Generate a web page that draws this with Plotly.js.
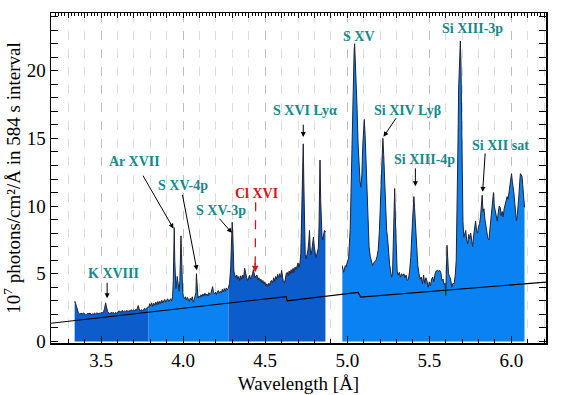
<!DOCTYPE html>
<html>
<head>
<meta charset="utf-8">
<script src="https://cdn.plot.ly/plotly-3.0.1.min.js"></script>
<style>html,body{margin:0;padding:0;background:#fff;}#chart{width:570px;height:395px;}</style>
</head>
<body>
<div id="chart"></div>
<script>
// ---- Spectrum segments (wavelength in Å, flux in 10^7 photons/cm^2/Å) ----
const wl1 = [
3.339, 3.341, 3.345, 3.349, 3.353, 3.357, 3.362, 3.367, 3.372, 3.378,
3.385, 3.392, 3.399, 3.406, 3.413, 3.420, 3.427, 3.433, 3.440, 3.447,
3.453, 3.460, 3.467, 3.474, 3.481, 3.488, 3.494, 3.501, 3.508, 3.515,
3.521, 3.525, 3.528, 3.532, 3.536, 3.540, 3.547, 3.555, 3.562, 3.569,
3.575, 3.582, 3.589, 3.596, 3.603, 3.610, 3.616, 3.623, 3.630, 3.636,
3.643, 3.650, 3.657, 3.664, 3.670, 3.677, 3.684, 3.690, 3.697, 3.704,
3.710, 3.716, 3.721, 3.727, 3.732, 3.738, 3.745, 3.752, 3.758, 3.765,
3.771, 3.777, 3.783, 3.790];
const fl1 = [
2.9, 2.95, 2.8, 2.6, 2.4, 2.2, 2.1, 2.05, 2.0, 2.1,
2.0, 2.1, 2.05, 1.98, 2.0, 2.08, 2.02, 2.1, 1.96, 2.05,
1.97, 2.1, 2.02, 2.12, 2.0, 2.08, 2.05, 2.15, 2.1, 2.2,
2.4, 2.7, 2.85, 2.6, 2.3, 2.2, 2.08, 2.03, 2.15, 2.1,
2.13, 2.05, 2.15, 2.03, 2.2, 2.25, 2.2, 2.15, 2.3, 2.17,
2.25, 2.2, 2.3, 2.2, 2.28, 2.2, 2.35, 2.25, 2.33, 2.25,
2.35, 2.3, 2.45, 2.65, 2.4, 2.25, 2.35, 2.28, 2.32, 2.45,
2.38, 2.45, 2.52, 2.5];

const wl2 = [
3.790, 3.796, 3.802, 3.808, 3.815, 3.821, 3.828, 3.834, 3.840, 3.846,
3.852, 3.858, 3.864, 3.870, 3.876, 3.882, 3.888, 3.894, 3.900, 3.906,
3.912, 3.918, 3.924, 3.930, 3.936, 3.940, 3.943, 3.946, 3.949, 3.952,
3.956, 3.960, 3.964, 3.968, 3.972, 3.976, 3.980, 3.984, 3.987, 3.990,
3.993, 3.997, 4.002, 4.008, 4.014, 4.020, 4.026, 4.032, 4.038, 4.044,
4.050, 4.056, 4.062, 4.068, 4.073, 4.078, 4.081, 4.084, 4.087, 4.091,
4.097, 4.103, 4.109, 4.115, 4.121, 4.127, 4.133, 4.139, 4.145, 4.151,
4.157, 4.163, 4.169, 4.175, 4.180, 4.185, 4.191, 4.197, 4.203, 4.209,
4.215, 4.221, 4.227, 4.233, 4.239, 4.245, 4.251, 4.257, 4.263, 4.269,
4.276];
const fl2 = [
2.5, 2.78, 2.6, 2.85, 2.58, 2.82, 2.65, 2.9, 2.7, 2.95,
2.75, 2.97, 2.8, 3.05, 2.85, 2.95, 3.1, 2.9, 3.0, 3.15,
2.95, 3.1, 3.15, 3.0, 3.3, 4.5, 6.5, 8.4, 6.0, 4.6,
3.9, 4.2, 4.8, 4.4, 3.8, 3.7, 4.5, 6.3, 7.8, 6.5,
4.8, 3.7, 3.3, 3.15, 3.3, 3.05, 3.25, 3.1, 2.95, 3.2,
3.05, 3.3, 2.9, 3.1, 3.3, 3.6, 5.0, 4.2, 3.4, 3.2,
3.35, 3.25, 3.45, 3.3, 3.5, 3.35, 3.55, 3.4, 3.5, 3.35,
3.6, 3.45, 3.55, 3.75, 4.05, 3.6, 3.5, 3.65, 3.45, 3.7,
3.75, 3.55, 3.7, 3.6, 3.85, 3.65, 3.9, 3.7, 3.95, 3.8,
3.95];

const wl3 = [
4.276, 4.283, 4.290, 4.295, 4.299, 4.302, 4.305, 4.309, 4.315, 4.321,
4.327, 4.333, 4.339, 4.345, 4.351, 4.357, 4.363, 4.369, 4.375, 4.381,
4.387, 4.393, 4.399, 4.405, 4.411, 4.417, 4.423, 4.428, 4.433, 4.438,
4.444, 4.450, 4.456, 4.462, 4.468, 4.474, 4.480, 4.486, 4.492, 4.498,
4.504, 4.510, 4.516, 4.522, 4.528, 4.534, 4.540, 4.546, 4.552, 4.558,
4.564, 4.570, 4.576, 4.582, 4.588, 4.594, 4.600, 4.605, 4.610, 4.616,
4.622, 4.628, 4.634, 4.640, 4.646, 4.652, 4.658, 4.664, 4.670, 4.676,
4.682, 4.688, 4.694, 4.700, 4.706, 4.712, 4.717, 4.721, 4.725, 4.729,
4.732, 4.735, 4.739, 4.744, 4.750, 4.756, 4.761, 4.766, 4.770, 4.774,
4.779, 4.784, 4.789, 4.794, 4.799, 4.804, 4.809, 4.814, 4.819, 4.824,
4.828, 4.831, 4.834, 4.838, 4.842, 4.846, 4.851, 4.856, 4.861, 4.867];
const fl3 = [
3.95, 4.3, 5.5, 7.5, 8.8, 8.2, 6.5, 5.2, 4.9, 4.7,
4.9, 4.6, 4.8, 4.5, 4.85, 4.6, 4.9, 4.7, 5.4, 4.9,
4.7, 4.5, 4.8, 4.9, 4.6, 4.75, 5.0, 5.3, 4.95, 4.7,
4.85, 4.9, 4.55, 4.7, 4.45, 4.6, 4.35, 4.5, 4.25, 4.4,
4.1, 4.25, 4.05, 4.3, 4.15, 4.45, 4.5, 4.35, 4.7, 4.45,
4.8, 4.6, 4.95, 4.7, 5.0, 4.75, 5.25, 4.8, 4.45, 4.3,
4.55, 5.0, 5.1, 4.85, 5.2, 4.95, 5.3, 5.05, 5.4, 5.1,
5.5, 5.3, 5.65, 5.8, 5.45, 5.8, 6.5, 8.5, 11.5, 14.0,
14.6, 12.0, 8.0, 6.4, 6.1, 6.4, 6.8, 7.4, 8.2, 6.9,
6.4, 6.7, 7.2, 7.7, 7.0, 6.5, 6.2, 6.4, 6.6, 6.9,
8.5, 11.5, 13.4, 10.5, 8.5, 7.8, 7.5, 7.9, 8.2, 8.1];

const wl4 = [
4.970, 4.974, 4.978, 4.983, 4.988, 4.993, 4.998, 5.003, 5.008, 5.013,
5.018, 5.023, 5.028, 5.033, 5.038, 5.042, 5.045, 5.049, 5.054, 5.060,
5.066, 5.072, 5.078, 5.083, 5.089, 5.095, 5.100, 5.104, 5.109, 5.115,
5.121, 5.127, 5.133, 5.140, 5.147, 5.154, 5.161, 5.168, 5.175, 5.182,
5.189, 5.196, 5.202, 5.208, 5.213, 5.217, 5.222, 5.228, 5.234, 5.240,
5.246, 5.252, 5.258, 5.264, 5.270, 5.276, 5.281, 5.285, 5.289, 5.293,
5.298, 5.304, 5.310, 5.317, 5.324, 5.331, 5.338, 5.345, 5.352, 5.359,
5.366, 5.373, 5.380, 5.387, 5.394, 5.400, 5.406, 5.410, 5.414, 5.419,
5.424, 5.430, 5.437, 5.444, 5.451, 5.458, 5.465, 5.472, 5.479, 5.486,
5.493, 5.500, 5.507, 5.514, 5.521, 5.528, 5.535, 5.542, 5.549, 5.556,
5.563, 5.570, 5.577, 5.584, 5.590, 5.596, 5.600, 5.604, 5.608, 5.612,
5.617, 5.623, 5.630, 5.637, 5.644, 5.651, 5.658, 5.664, 5.669, 5.674,
5.679, 5.684, 5.689, 5.693, 5.697, 5.701, 5.705, 5.710, 5.716, 5.722,
5.728, 5.734, 5.740, 5.746, 5.752, 5.758, 5.764, 5.770, 5.776, 5.782,
5.788, 5.794, 5.800, 5.806, 5.812, 5.817, 5.822, 5.827, 5.833, 5.839,
5.845, 5.851, 5.857, 5.863, 5.869, 5.875, 5.881, 5.886, 5.891, 5.896,
5.902, 5.908, 5.914, 5.920, 5.926, 5.932, 5.938, 5.944, 5.950, 5.956,
5.962, 5.968, 5.974, 5.980, 5.986, 5.991, 5.996, 6.001, 6.006, 6.011,
6.016, 6.021, 6.026, 6.031, 6.036, 6.041, 6.046, 6.051, 6.055, 6.060,
6.065, 6.069, 6.073, 6.077, 6.080];
const fl4 = [
5.6, 5.2, 5.1, 5.35, 5.6, 5.5, 5.9, 6.0, 6.1, 7.0,
8.3, 11.0, 14.5, 17.5, 20.3, 21.5, 22.0, 21.0, 19.3, 17.2,
14.6, 12.8, 11.8, 11.4, 12.3, 14.6, 16.0, 16.4, 15.2, 13.2,
11.0, 8.9, 7.0, 6.3, 5.9, 5.6, 5.8, 5.9, 6.0, 6.3,
6.8, 8.2, 10.5, 13.0, 14.6, 15.0, 13.8, 11.6, 9.5, 8.2,
7.6, 6.3, 5.7, 5.2, 4.75, 5.0, 7.5, 10.0, 11.3, 9.2,
6.6, 5.2, 4.9, 5.1, 4.75, 5.0, 4.85, 5.0, 4.7, 4.9,
4.5, 4.6, 5.2, 6.2, 8.0, 9.8, 10.7, 9.9, 9.0, 8.2,
6.6, 5.6, 5.0, 4.6, 4.75, 4.25, 4.9, 4.3, 4.7, 4.45,
4.0, 4.4, 4.1, 4.6, 4.75, 4.4, 5.0, 5.2, 5.25, 5.2,
5.25, 5.1, 4.5, 4.6, 4.2, 4.3, 3.4, 5.0, 7.1, 6.2,
5.0, 4.8, 4.6, 4.0, 4.3, 4.25, 4.9, 6.0, 9.0, 14.0,
18.8, 21.3, 22.2, 20.5, 16.5, 11.5, 8.9, 7.7, 8.0, 8.2,
7.5, 7.2, 7.9, 7.6, 8.0, 7.4, 7.0, 7.8, 8.5, 8.9,
8.2, 8.0, 8.5, 8.7, 9.2, 10.0, 10.8, 9.6, 9.8, 9.0,
8.45, 8.0, 7.6, 7.5, 8.2, 8.8, 9.4, 10.2, 11.0, 10.0,
9.6, 9.0, 8.9, 9.5, 10.0, 9.9, 9.3, 9.6, 9.2, 9.8,
10.2, 10.5, 10.7, 10.5, 11.0, 11.3, 11.9, 12.4, 11.8, 11.4,
10.9, 10.2, 9.4, 8.9, 9.3, 9.9, 10.8, 11.8, 12.4, 12.3,
12.2, 11.6, 11.0, 10.4, 9.9];

// Continuum model line
const contWl = [3.195, 4.628, 4.634, 5.055, 5.066, 5.082, 6.211];
const contFl = [1.34, 3.31, 3.00, 3.62, 3.62, 3.28, 4.38];

// Line labels: text, label position, arrow tail, arrow tip
const lineNames = ["K XVIII", "Ar XVII", "S XV-4p", "S XV-3p", "Cl XVI", "S XVI Lyα", "S XV", "Si XIV Lyβ", "Si XIII-4p", "Si XIII-3p", "Si XII sat"];
const labelX = [3.573, 3.701, 4.000, 4.232, 4.445, 4.744, 5.071, 5.366, 5.470, 5.765, 5.933];
const labelY = [5.02, 13.27, 11.55, 9.70, 10.93, 17.09, 22.51, 17.09, 13.45, 23.14, 14.50];
const tailX = [3.537, 3.750, 3.994, 4.213, 4.442, 4.732, null, 5.303, 5.415, null, 5.841];
const tailY = [4.44, 12.36, 10.95, 9.18, 10.29, 16.13, null, 16.60, 12.90, null, 14.00];
const tipX  = [3.537, 3.941, 4.084, 4.297, 4.439, 4.732, null, 5.221, 5.415, null, 5.825];
const tipY  = [3.19, 8.34, 5.26, 8.02, 5.11, 15.10, null, 15.12, 11.47, null, 11.05];

const DARK = '#0d5ccb';
const LIGHT = '#0a82f2';
const segColors = [DARK, LIGHT, DARK, LIGHT];
const segs = [[wl1, fl1], [wl2, fl2], [wl3, fl3], [wl4, fl4]];

const traces = segs.map((s, i) => ({
  x: s[0], y: s[1], type: 'scatter', mode: 'lines',
  fill: 'tozeroy', fillcolor: segColors[i],
  line: {color: '#222233', width: 1}, hoverinfo: 'skip', showlegend: false
}));
traces.push({x: contWl, y: contFl, type: 'scatter', mode: 'lines',
  line: {color: '#000', width: 1.2}, hoverinfo: 'skip', showlegend: false});
traces.push({x: [], y: [], xaxis: 'x2', type: 'scatter', showlegend: false});

const TEAL = '#16898b';
const RED = '#d01818';
const serif = '"Liberation Serif", "Times New Roman", serif';
const annotations = [];
const shapes = [];
lineNames.forEach((n, i) => {
  const isCl = n === 'Cl XVI';
  annotations.push({x: labelX[i], y: labelY[i], xref: 'x', yref: 'y', text: '<b>' + n + '</b>',
    showarrow: false, xanchor: 'center', yanchor: 'middle',
    font: {family: serif, size: 14, color: isCl ? RED : TEAL}});
  if (tipX[i] === null) return;
  if (isCl) {
    shapes.push({type: 'line', xref: 'x', yref: 'y', x0: tailX[i], y0: tailY[i], x1: tipX[i], y1: tipY[i] + 0.5,
      line: {color: RED, width: 1.3, dash: 'dash'}});
    annotations.push({x: tipX[i], y: tipY[i], ax: tipX[i], ay: tipY[i] + 0.8, axref: 'x', ayref: 'y',
      xref: 'x', yref: 'y', text: '', showarrow: true, arrowhead: 2, arrowsize: 1, arrowwidth: 1.3, arrowcolor: RED});
  } else {
    annotations.push({x: tipX[i], y: tipY[i], ax: tailX[i], ay: tailY[i], axref: 'x', ayref: 'y',
      xref: 'x', yref: 'y', text: '', showarrow: true, arrowhead: 2, arrowsize: 1, arrowwidth: 1, arrowcolor: '#000'});
  }
});

const xr = [3.195, 6.211];
const layout = {
  width: 570, height: 395,
  margin: {l: 51, r: 24, t: 13, b: 52},
  paper_bgcolor: '#fff', plot_bgcolor: '#fff',
  font: {family: serif, color: '#000'},
  showlegend: false,
  xaxis: {
    range: xr, tick0: 0, dtick: 0.5, tickformat: '.1f',
    ticks: 'inside', ticklen: 7, tickwidth: 1, tickcolor: '#000',
    showline: true, linewidth: 1.5, linecolor: '#000', mirror: true,
    showgrid: true, gridcolor: '#bdbdbd', griddash: 'dash', gridwidth: 1,
    zeroline: false,
    tickfont: {family: serif, size: 19, color: '#000'},
    minor: {dtick: 0.1, tick0: 0, ticks: 'inside', ticklen: 4, tickcolor: '#000',
      showgrid: true, gridcolor: '#dcdcdc', griddash: 'dash', gridwidth: 1},
    title: {text: 'Wavelength [Å]', font: {family: serif, size: 19, color: '#000'}, standoff: 6}
  },
  xaxis2: {
    range: xr, overlaying: 'x', side: 'top', anchor: 'y',
    tick0: 0, dtick: 0.1, ticks: 'inside', ticklen: 5, tickcolor: '#000',
    showticklabels: false, showgrid: false, zeroline: false, showline: false,
    minor: {dtick: 0.02, tick0: 0, ticks: 'inside', ticklen: 3, tickcolor: '#000'}
  },
  yaxis: {
    range: [-0.12, 24.27], tick0: 0, dtick: 5,
    ticks: 'inside', ticklen: 7, tickwidth: 1, tickcolor: '#000',
    showline: true, linewidth: 1.5, linecolor: '#000', mirror: 'allticks',
    showgrid: false, zeroline: false,
    tickfont: {family: serif, size: 19, color: '#000'},
    minor: {dtick: 1, tick0: 0, ticks: 'inside', ticklen: 4, tickcolor: '#000'},
    title: {text: '10<sup>7</sup> photons/cm²/Å in 584 s interval', font: {family: serif, size: 19, color: '#000'}}
  },
  annotations: annotations,
  shapes: shapes
};

Plotly.newPlot('chart', traces, layout, {displayModeBar: false, staticPlot: true});
</script>
</body>
</html>
